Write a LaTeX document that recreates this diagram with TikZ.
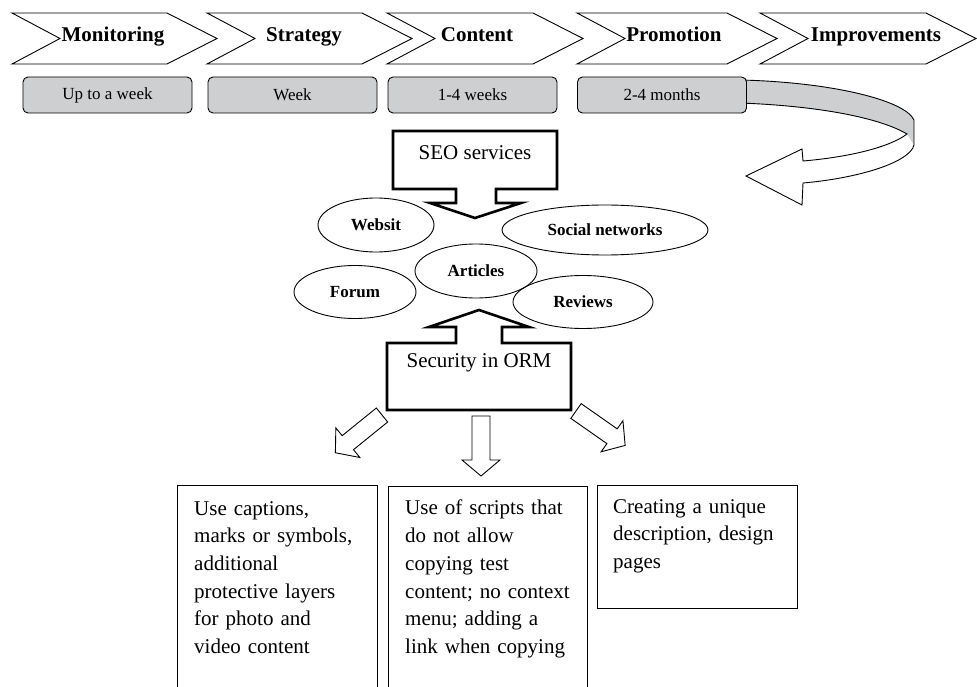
\documentclass[tikz,border=0pt]{standalone}
\usepackage{fontspec}
\setmainfont{Liberation Serif}
\usetikzlibrary{shapes.geometric}
\definecolor{boxgray}{RGB}{206,207,209}

\begin{document}
\begin{tikzpicture}[
  x=1pt, y=-1pt,
  outline/.style={draw, line width=0.9pt, fill=white, line join=miter},
  stage/.style={font=\fontsize{21}{25}\selectfont\bfseries, anchor=base},
  term/.style={draw, rounded corners=5pt, fill=boxgray, line width=0.9pt,
               minimum width=169pt, minimum height=36pt, inner sep=0pt,
               font=\fontsize{17}{20}\selectfont},
  callout/.style={draw, line width=2.6pt, fill=white, line join=miter},
  tag/.style={font=\fontsize{21}{25}\selectfont, anchor=base},
  topic/.style={ellipse, draw, line width=0.9pt, inner sep=0pt,
                font=\fontsize{17}{20}\selectfont\bfseries},
  panel/.style={draw, line width=1pt, minimum width=200pt, inner sep=0pt,
                anchor=north west},
  paneltext/.style={anchor=north west, inner sep=0pt, text width=180pt,
                    align=left, font=\fontsize{21}{27.7}\selectfont},
  blockarrow/.pic={\path[outline] (0,-9) -- (44,-9) -- (44,-19) -- (60,0)
                   -- (44,19) -- (44,9) -- (0,9) -- cycle;},
]
\useasboundingbox (0,0) rectangle (977,687);

\foreach \l/\r/\c/\txt/\nm in {12/167/113/Monitoring/mon, 207/362/304/Strategy/strat,
    387/533/477/Content/cont, 577/727/674/Promotion/promo, 760/926/876/Improvements/impr}{
  \path[outline] (\l,13) -- (\r,13) -- (\r+50,38.5) -- (\r,64) -- (\l,64)
                 -- (\l+48,38.5) -- cycle;
  \node[stage] (\nm) at (\c,42) {\txt};
}

\fill[boxgray] (740,80) .. controls (830,82) and (905,100) .. (914,120)
  -- (914,145) -- (907,134) .. controls (880,118) and (820,106) .. (740,103) -- cycle;
\draw[line width=0.9pt] (740,80) .. controls (830,82) and (905,100) .. (914,120) -- (914,145);
\draw[line width=0.9pt, line join=miter] (740,103) .. controls (820,106) and (880,118) .. (907,134)
  .. controls (890,147) and (850,157) .. (803,161) -- (802,149) -- (746,176) -- (802,205)
  -- (803,183) .. controls (860,178) and (910,162) .. (914,145);

\foreach \x/\txt/\nm in {107.5/Up to a week/t1, 292.5/Week/t2, 472.5/1-4 weeks/t3,
    662/2-4 months/t4}{
  \node[term] (\nm) at (\x,95) {\txt};
}

\path[callout] (393,131) -- (557,131) -- (557,189) -- (496,189) -- (496,203) -- (521,203)
  -- (475,218) -- (430,203) -- (456,203) -- (456,189) -- (393,189) -- cycle;
\node[tag] (seo) at (475,160) {SEO services};

\node[topic, minimum width=116pt, minimum height=54pt] (web) at (376,225) {Websit};
\node[topic, minimum width=206pt, minimum height=50pt] (social) at (605,230) {Social networks};
\node[topic, minimum width=122pt, minimum height=54pt] (articles) at (476,271) {Articles};
\node[topic, minimum width=122pt, minimum height=53pt] (forum) at (355,292) {Forum};
\node[topic, minimum width=140pt, minimum height=53pt] (reviews) at (583,302) {Reviews};

\path[callout] (387,410) -- (387,343) -- (456,343) -- (456,327) -- (429,327) -- (479,310)
  -- (529,327) -- (502,327) -- (502,343) -- (571,343) -- (571,410) -- cycle;
\node[tag] (orm) at (479,367) {Security in ORM};

\pic[rotate=219] (leftarr) at (382,415) {blockarrow};
\pic[rotate=-90] (midarr) at (481,416) {blockarrow};
\pic[rotate=-35] (rightarr) at (576,411) {blockarrow};

\node[panel, minimum height=220pt] (cap) at (177,485) {};
\node[panel, minimum height=220pt, minimum width=199pt] (script) at (388,486) {};
\node[panel, minimum height=123pt] (unique) at (597,485) {};

\node[paneltext] (captxt) at ([shift={(17,16)}]cap.north west)
  {Use captions,\\marks or symbols,\\additional\\protective layers\\for photo and\\video content};
\node[paneltext] (scripttxt) at ([shift={(17,14)}]script.north west)
  {Use of scripts that\\do not allow\\copying test\\content; no context\\menu; adding a\\link when copying};
\node[paneltext] (uniquetxt) at ([shift={(16,14)}]unique.north west)
  {Creating a unique\\description, design\\pages};
\end{tikzpicture}
\end{document}
